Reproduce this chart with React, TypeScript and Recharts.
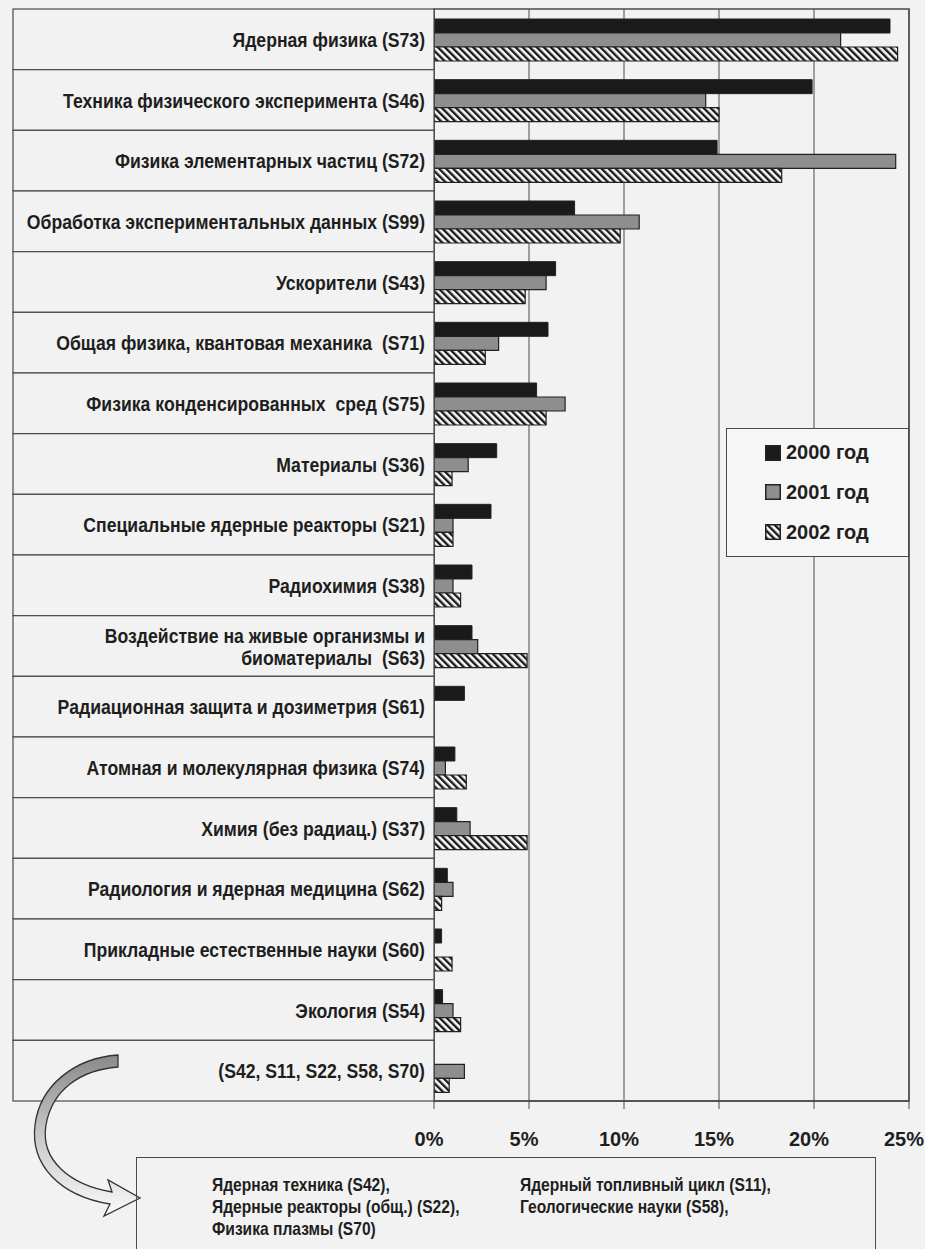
import React from 'react';
import { BarChart, Bar, XAxis, YAxis, CartesianGrid, ReferenceArea } from 'recharts';

const categories = [
  'Ядерная физика (S73)',
  'Техника физического эксперимента (S46)',
  'Физика элементарных частиц (S72)',
  'Обработка экспериментальных данных (S99)',
  'Ускорители (S43)',
  'Общая физика, квантовая механика  (S71)',
  'Физика конденсированных  сред (S75)',
  'Материалы (S36)',
  'Специальные ядерные реакторы (S21)',
  'Радиохимия (S38)',
  'Воздействие на живые организмы и\nбиоматериалы  (S63)',
  'Радиационная защита и дозиметрия (S61)',
  'Атомная и молекулярная физика (S74)',
  'Химия (без радиац.) (S37)',
  'Радиология и ядерная медицина (S62)',
  'Прикладные естественные науки (S60)',
  'Экология (S54)',
  '(S42, S11, S22, S58, S70)',
];

const y2000 = [24.0, 19.9, 14.9, 7.4, 6.4, 6.0, 5.4, 3.3, 3.0, 2.0, 2.0, 1.6, 1.1, 1.2, 0.7, 0.4, 0.45, 0];
const y2001 = [21.4, 14.3, 24.3, 10.8, 5.9, 3.4, 6.9, 1.8, 1.0, 1.0, 2.3, 0, 0.6, 1.9, 1.0, 0, 1.0, 1.6];
const y2002 = [24.4, 15.0, 18.3, 9.8, 4.8, 2.7, 5.9, 0.95, 1.0, 1.4, 4.9, 0, 1.7, 4.9, 0.4, 0.95, 1.4, 0.8];

const xTicks = [0, 5, 10, 15, 20, 25];
const seriesNames = ['2000 год', '2001 год', '2002 год'];

const footnoteCol1 = ['Ядерная техника (S42),', 'Ядерные реакторы (общ.) (S22),', 'Физика плазмы (S70)'];
const footnoteCol2 = ['Ядерный топливный цикл (S11),', 'Геологические науки (S58),'];

const data = categories.map((name, i) => ({ name, a: y2000[i], b: y2001[i], c: y2002[i] }));

const W = 925;
const H = 1249;
const TOP = 9;
const PLOT_BOTTOM = 1101;
const LEFT = 434;
const band = (PLOT_BOTTOM - TOP) / categories.length;

const font = "'Liberation Sans', Arial, sans-serif";
const bg = '#f2f2f2';
const line = '#4a4a4a';
const ink = '#1e1e1e';

// labels in the scan are in a condensed bold face, so squeeze Liberation Sans horizontally
const CategoryTick = (props: any) => {
  const { y, payload } = props;
  const lines = String(payload.value).split('\n');
  return (
    <g>
      <rect x={13} y={y - band / 2} width={LEFT - 13} height={band} fill={bg} stroke={line} strokeWidth={1.2} />
      {lines.map((t, i) => (
        <g key={i} transform={`translate(425, ${y + (i - (lines.length - 1) / 2) * 22}) scale(0.84, 1)`}>
          <text x={0} y={0} dy="0.36em" textAnchor="end" fontFamily={font} fontWeight={700} fontSize={21} fill={ink} style={{ whiteSpace: 'pre' }}>
            {t}
          </text>
        </g>
      ))}
    </g>
  );
};

const PercentTick = (props: any) => {
  const { x, y, payload } = props;
  return (
    <g transform={`translate(${x - 5}, ${y})`}>
      <text x={0} y={0} dy="0.71em" textAnchor="middle" fontFamily={font} fontWeight={700} fontSize={20} fill={ink}>
        {`${payload.value}%`}
      </text>
    </g>
  );
};

const Swatch = ({ kind }: { kind: number }) => (
  <svg width={16} height={16} style={{ marginRight: 5, flex: 'none' }}>
    <defs>
      <pattern id={`lg${kind}`} patternUnits="userSpaceOnUse" width={5} height={5} patternTransform="rotate(-45)">
        <rect width={5} height={5} fill="#fafafa" />
        <rect width={2.4} height={5} fill="#1a1a1a" />
      </pattern>
    </defs>
    <rect
      x={0.75}
      y={0.75}
      width={14.5}
      height={14.5}
      fill={kind === 0 ? '#1a1a1a' : kind === 1 ? '#8e8e8e' : `url(#lg${kind})`}
      stroke="#222"
      strokeWidth={1.5}
    />
  </svg>
);

const LegendBox = () => (
  <div
    style={{
      position: 'absolute',
      left: 726,
      top: 428,
      width: 183,
      height: 129,
      border: `1.5px solid ${line}`,
      background: '#f6f6f6',
      display: 'flex',
      flexDirection: 'column',
      justifyContent: 'space-around',
      padding: '4px 0 4px 38px',
      boxSizing: 'border-box',
    }}
  >
    {seriesNames.map((s, i) => (
      <div key={s} style={{ display: 'flex', alignItems: 'center', fontFamily: font, fontWeight: 700, fontSize: 20, color: ink }}>
        <Swatch kind={i} />
        {s}
      </div>
    ))}
  </div>
);

const Arrow = () => (
  <svg width={W} height={H} style={{ position: 'absolute', left: 0, top: 0, pointerEvents: 'none' }}>
    <defs>
      <linearGradient id="arrowFill" x1="0" y1="0" x2="0" y2="1">
        <stop offset="0" stopColor="#8a8a8a" />
        <stop offset="0.5" stopColor="#c8c8c8" />
        <stop offset="1" stopColor="#fafafa" />
      </linearGradient>
    </defs>
    <path
      d="M118 1055 L118 1067 C80 1070 52 1090 46 1125 C40 1160 70 1185 112 1192 L108 1180 L140 1198 L104 1216 L110 1204 C60 1196 30 1165 35 1125 C40 1085 75 1058 118 1055 Z"
      fill="url(#arrowFill)"
      stroke="#333"
      strokeWidth={1.3}
    />
  </svg>
);

const App = () => (
  <div style={{ position: 'absolute', left: 0, top: 0, width: W, height: H, background: bg, overflow: 'hidden' }}>
    <BarChart
      width={W}
      height={H}
      data={data}
      layout="vertical"
      margin={{ top: TOP, right: W - 909, left: 0, bottom: H - PLOT_BOTTOM - 45 }}
      barCategoryGap={10}
      barGap={0}
    >
      <defs>
        <pattern id="hatch" patternUnits="userSpaceOnUse" width={5} height={5} patternTransform="rotate(-45)">
          <rect width={5} height={5} fill="#fafafa" />
          <rect width={2.4} height={5} fill="#1a1a1a" />
        </pattern>
      </defs>
      <CartesianGrid horizontal={false} stroke={line} strokeWidth={1} />
      <XAxis
        type="number"
        domain={[0, 25]}
        ticks={xTicks}
        height={45}
        tickSize={8}
        tickMargin={23}
        axisLine={{ stroke: line, strokeWidth: 1.5 }}
        tickLine={{ stroke: line }}
        tick={<PercentTick />}
      />
      <YAxis type="category" dataKey="name" width={LEFT} interval={0} axisLine={false} tickLine={false} tick={<CategoryTick />} />
      <ReferenceArea x1={0} x2={25} fill="none" stroke={line} strokeWidth={1.5} ifOverflow="visible" />
      <Bar dataKey="a" name={seriesNames[0]} fill="#1a1a1a" stroke="#222" strokeWidth={1} isAnimationActive={false} />
      <Bar dataKey="b" name={seriesNames[1]} fill="#8e8e8e" stroke="#222" strokeWidth={1.2} isAnimationActive={false} />
      <Bar dataKey="c" name={seriesNames[2]} fill="url(#hatch)" stroke="#222" strokeWidth={1.2} isAnimationActive={false} />
    </BarChart>
    <LegendBox />
    <Arrow />
    <div
      style={{
        position: 'absolute',
        left: 136,
        top: 1157,
        width: 740,
        height: 120,
        border: `1.5px solid ${line}`,
        boxSizing: 'border-box',
        fontFamily: font,
        fontWeight: 700,
        fontSize: 19,
        lineHeight: '22px',
        color: ink,
      }}
    >
      <div style={{ position: 'absolute', left: 75, top: 16, transform: 'scaleX(0.82)', transformOrigin: 'left top', whiteSpace: 'nowrap' }}>
        {footnoteCol1.map((t) => (
          <div key={t}>{t}</div>
        ))}
      </div>
      <div style={{ position: 'absolute', left: 383, top: 16, transform: 'scaleX(0.82)', transformOrigin: 'left top', whiteSpace: 'nowrap' }}>
        {footnoteCol2.map((t) => (
          <div key={t}>{t}</div>
        ))}
      </div>
    </div>
  </div>
);

export default App;
